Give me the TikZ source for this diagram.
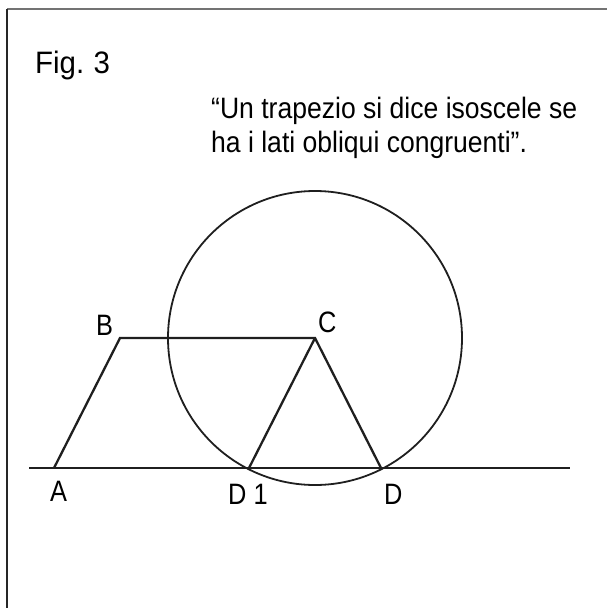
\documentclass[tikz,border=0pt]{standalone}
\usepackage{fontspec}
\setmainfont{Liberation Sans}
\newfontfamily\condfont[FakeStretch=0.9]{Liberation Sans}
\newfontfamily\lblfont[FakeStretch=0.86]{Liberation Sans}
\newfontfamily\figfont[FakeStretch=0.95]{Liberation Sans}
\begin{document}
\begin{tikzpicture}[x=1pt,y=-1pt,
  seg/.style={line width=2.3pt,black!88},
  circ/.style={line width=1.8pt,black!88},
  lbl/.style={anchor=base west,inner sep=0pt,font=\lblfont\fontsize{29.5}{30}\selectfont},
  txt/.style={anchor=base west,inner sep=0pt,font=\condfont\fontsize{29.5}{34}\selectfont}]
\useasboundingbox (0,0) rectangle (607,608);
% frame (top and left only)
\draw[line width=2pt,black!55] (7,9) -- (607,9);
\draw[line width=2pt,black!85] (7,9) -- (7,608);
% points
\coordinate (L) at (29,468);
\coordinate (R) at (570,468);
\coordinate (A) at (54,468);
\coordinate (B) at (120,338);
\coordinate (C) at (315,338);
\coordinate (D) at (381,468);
\coordinate (D1) at (249,468);
% drawing
\draw[circ] (C) circle (147);
\draw[seg] (L) -- (R);
\draw[seg,line join=miter] (A) -- (B) -- (C) -- (D);
\draw[seg] (C) -- (D1);
% labels
\node[lbl] (lA) at (50,501) {A};
\node[lbl] (lB) at (96,335) {B};
\node[lbl] (lC) at (318,332) {C};
\node[lbl] (lD) at (384,504) {D};
\node[lbl] (lD1) at (228,504) {D 1};
\node[anchor=base west,inner sep=0pt,font=\figfont\fontsize{31}{34}\selectfont] (fig) at (35,73) {Fig.\hspace{-1.5pt} 3};
\node[txt] (t1) at (211,118) {“Un trapezio si dice isoscele se};
\node[txt] (t2) at (211,152) {ha i lati obliqui congruenti”.};
\end{tikzpicture}
\end{document}
